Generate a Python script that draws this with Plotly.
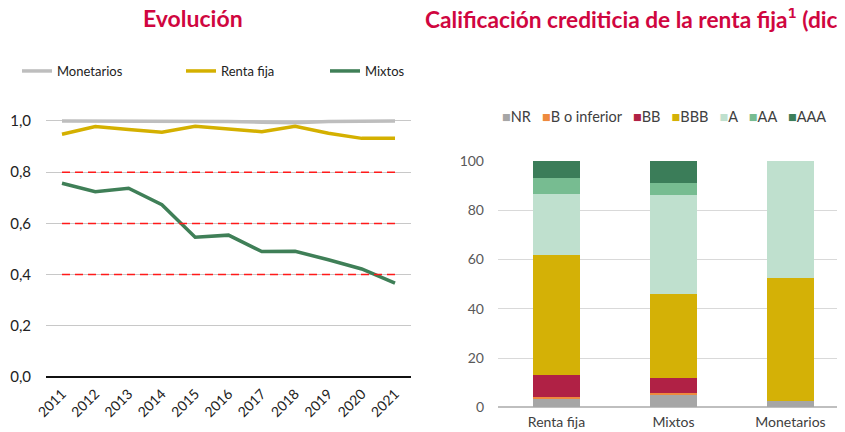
import plotly.graph_objects as go

# ---- Left chart data ----
years = [2011, 2012, 2013, 2014, 2015, 2016, 2017, 2018, 2019, 2020, 2021]
monetarios = [1.0, 1.0, 1.0, 1.0, 1.0, 0.998, 0.995, 0.993, 0.998, 1.0, 1.0]
renta_fija = [0.948, 0.978, 0.967, 0.956, 0.979, 0.970, 0.958, 0.979, 0.952, 0.932, 0.932]
mixtos = [0.757, 0.724, 0.737, 0.673, 0.546, 0.554, 0.490, 0.491, 0.458, 0.422, 0.367]
ref_levels = [0.8, 0.6, 0.4]
y_ticks = [0.0, 0.2, 0.4, 0.6, 0.8, 1.0]

# ---- Right chart data ----
categories = ["Renta fija", "Mixtos", "Monetarios"]
ratings = ["NR", "B o inferior", "BB", "BBB", "A", "AA", "AAA"]
nr = [3.6, 5.0, 2.6]
b_inf = [0.6, 0.7, 0.0]
bb = [9.0, 6.2, 0.0]
bbb = [48.6, 34.2, 50.0]
a = [25.0, 40.3, 47.4]
aa = [6.3, 4.7, 0.0]
aaa = [6.9, 8.9, 0.0]
rating_values = [nr, b_inf, bb, bbb, a, aa, aaa]
rating_colors = ["#A6A6A6", "#EE8A3E", "#B02145", "#D4B106", "#BFE0CE", "#77BC91", "#3B7D59"]

TITLE_COLOR = "#D0063F"
FONT = "Lato"
W, H = 845, 432
OFF = 8  # page body margin


def fx(wx):
    return (wx - OFF) / W


def fy(wy):
    return (H - (wy - OFF)) / H


fig = go.Figure()

# Left chart lines
line_specs = [("Monetarios", monetarios, "#BEBEBE", 119),
              ("Renta fija", renta_fija, "#D4B000", 99),
              ("Mixtos", mixtos, "#3F7F57", 60)]
for name, vals, col, lw in line_specs:
    fig.add_trace(go.Scatter(x=years, y=vals, name=name, mode="lines",
                             line=dict(color=col, width=3.5), legendwidth=lw,
                             xaxis="x", yaxis="y", legend="legend"))

for lvl in ref_levels:
    fig.add_trace(go.Scatter(x=[years[0], years[-1]], y=[lvl, lvl], mode="lines",
                             line=dict(color="#FF1A1A", width=1.5, dash="8px,5px"),
                             showlegend=False, hoverinfo="skip",
                             xaxis="x", yaxis="y"))

# Right chart bars
for name, vals, col in zip(ratings, rating_values, rating_colors):
    fig.add_trace(go.Bar(x=categories, y=vals, name=name, marker=dict(color=col, line=dict(width=0)),
                         width=0.4, showlegend=False, xaxis="x2", yaxis="y2"))

legend_text = "&nbsp;&nbsp;&nbsp;".join(
    f"<span style='color:{c}'>■</span>{n}" for n, c in zip(ratings, rating_colors))

fig.update_layout(
    width=W, height=H,
    margin=dict(l=0, r=0, t=0, b=0),
    paper_bgcolor="white", plot_bgcolor="white",
    separators=",.",
    font=dict(family=FONT, size=13, color="#222222"),
    barmode="stack",
    showlegend=True,
    legend=dict(orientation="h", x=fx(17), y=fy(71), xanchor="left", yanchor="middle",
                traceorder="normal",
                font=dict(size=13, color="#222222"), bgcolor="rgba(0,0,0,0)"),
    xaxis=dict(domain=[fx(46), fx(411)], range=[2010.52, 2021.48], tickvals=years,
               tickangle=-45, showgrid=False, zeroline=False, showline=False, automargin=False,
               tickfont=dict(size=14, color="#222222"), ticks="", anchor="y",
               ticklabelstandoff=5),
    yaxis=dict(domain=[fy(377), fy(118.4)], range=[0, 1.01], anchor="x",
               tickvals=y_ticks, tickformat=".1f", showgrid=True, gridcolor="#C8C8C8", gridwidth=1,
               zeroline=True, zerolinecolor="#111111", zerolinewidth=2, automargin=False,
               tickfont=dict(size=15, color="#222222"), ticks="", ticklabelstandoff=14),
    xaxis2=dict(domain=[fx(498), 1.0], range=[-0.5, 2.466 + OFF / 117], showgrid=False, zeroline=False,
                showline=False, tickfont=dict(size=14, color="#404040"), ticks="", anchor="y2",
                automargin=False, ticklabelstandoff=5),
    yaxis2=dict(domain=[fy(407.3), fy(161)], range=[0, 100], anchor="x2",
                tickvals=[0, 20, 40, 60, 80, 100], showgrid=True, gridcolor="#D9D9D9", gridwidth=1,
                zeroline=True, zerolinecolor="#BFBFBF", zerolinewidth=1.5, automargin=False,
                tickfont=dict(size=14, color="#595959"), ticks="", ticklabelstandoff=13),
    annotations=[
        dict(text="<b>Evolución</b>", x=fx(193), y=fy(18), xref="paper", yref="paper",
             xanchor="center", yanchor="middle", showarrow=False,
             font=dict(size=23, color=TITLE_COLOR, family=FONT)),
        dict(text="<b>Calificación crediticia de la renta fija<sup>1</sup> (diciembre 2021)</b>",
             x=fx(423), y=fy(18), xref="paper", yref="paper",
             xanchor="left", yanchor="middle", showarrow=False,
             font=dict(size=22.7, color=TITLE_COLOR, family=FONT)),
        dict(text=legend_text, x=fx(500), y=fy(116), xref="paper", yref="paper",
             xanchor="left", yanchor="middle", showarrow=False,
             font=dict(size=14.5, color="#404040", family=FONT)),
    ],
)

fig.write_html("out.html")
